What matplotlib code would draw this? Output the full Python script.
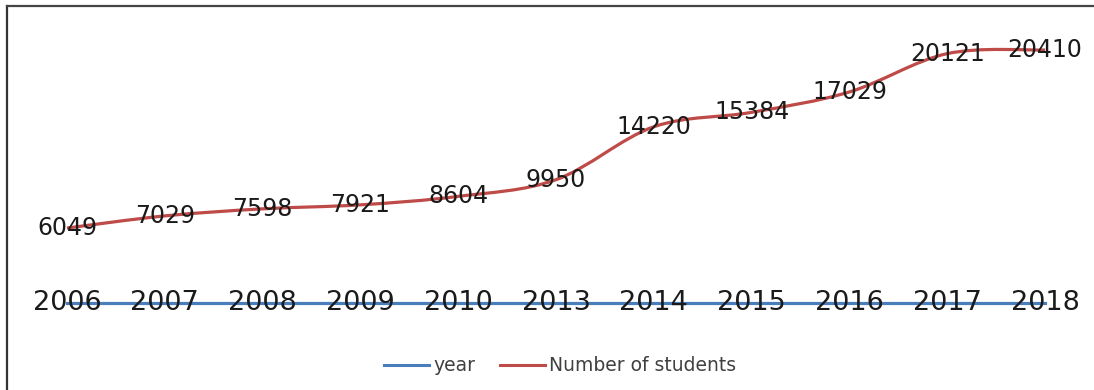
import matplotlib
matplotlib.use('Agg')
import matplotlib.pyplot as plt
from matplotlib.lines import Line2D
from matplotlib.path import Path
from matplotlib.patches import PathPatch

# data
years = ['2006', '2007', '2008', '2009', '2010', '2013', '2014', '2015', '2016', '2017', '2018']
year_line = [0, 0, 0, 0, 0, 0, 0, 0, 0, 0, 0]   # the "year" series sits on the baseline
students = [6049, 7029, 7598, 7921, 8604, 9950, 14220, 15384, 17029, 20121, 20410]

BLUE = '#4a7ebb'
RED = '#be4b48'


def smooth_path(xs, ys):
    # Excel-style smoothed line: cubic bezier through the points (Catmull-Rom controls)
    n = len(xs)
    verts = [(xs[0], ys[0])]
    codes = [Path.MOVETO]
    for i in range(n - 1):
        x0, y0 = (xs[i - 1], ys[i - 1]) if i > 0 else (xs[i], ys[i])
        x1, y1 = xs[i], ys[i]
        x2, y2 = xs[i + 1], ys[i + 1]
        x3, y3 = (xs[i + 2], ys[i + 2]) if i + 2 < n else (x2, y2)
        c1 = (x1 + (x2 - x0) / 6, y1 + (y2 - y0) / 6)
        c2 = (x2 - (x3 - x1) / 6, y2 - (y3 - y1) / 6)
        verts += [c1, c2, (x2, y2)]
        codes += [Path.CURVE4] * 3
    return Path(verts, codes)


fig = plt.figure(figsize=(10.94, 3.90), dpi=100)
ax = fig.add_axes([0, 0, 1, 1])

x = list(range(len(years)))
ax.plot(x, year_line, color=BLUE, lw=2.3, zorder=2)
ax.add_patch(PathPatch(smooth_path(x, students), fill=False, edgecolor=RED, lw=2.3, zorder=2))

# data labels
for i, v in enumerate(students):
    ax.text(i, v, str(v), ha='center', va='center', fontsize=17, color='#1a1a1a', zorder=3)
for i, v in enumerate(year_line):
    ax.text(i, v, years[i], ha='center', va='center', fontsize=19.5, color='#1a1a1a', zorder=3)

ax.set_xlim(-0.685, 10.5)
ax.set_ylim(-7016, 24445)
ax.axis('off')

handles = [Line2D([], [], color=BLUE, lw=2.2), Line2D([], [], color=RED, lw=2.2)]
fig.legend(handles, ['year', 'Number of students'], loc='center',
           bbox_to_anchor=(0.512, 0.062), ncol=2, frameon=False,
           fontsize=13.5, handlelength=2.4, handletextpad=0.25, columnspacing=1.3,
           labelcolor='#404040')

# frame (only top and left edges are visible in the crop)
fig.add_artist(Line2D([7 / 1094, 7 / 1094], [0, 1 - 6 / 390], transform=fig.transFigure,
                      color='#333333', lw=1.6))
fig.add_artist(Line2D([7 / 1094, 1], [1 - 6 / 390, 1 - 6 / 390], transform=fig.transFigure,
                      color='#444444', lw=1.6))

fig.savefig('out.png', dpi=100)
